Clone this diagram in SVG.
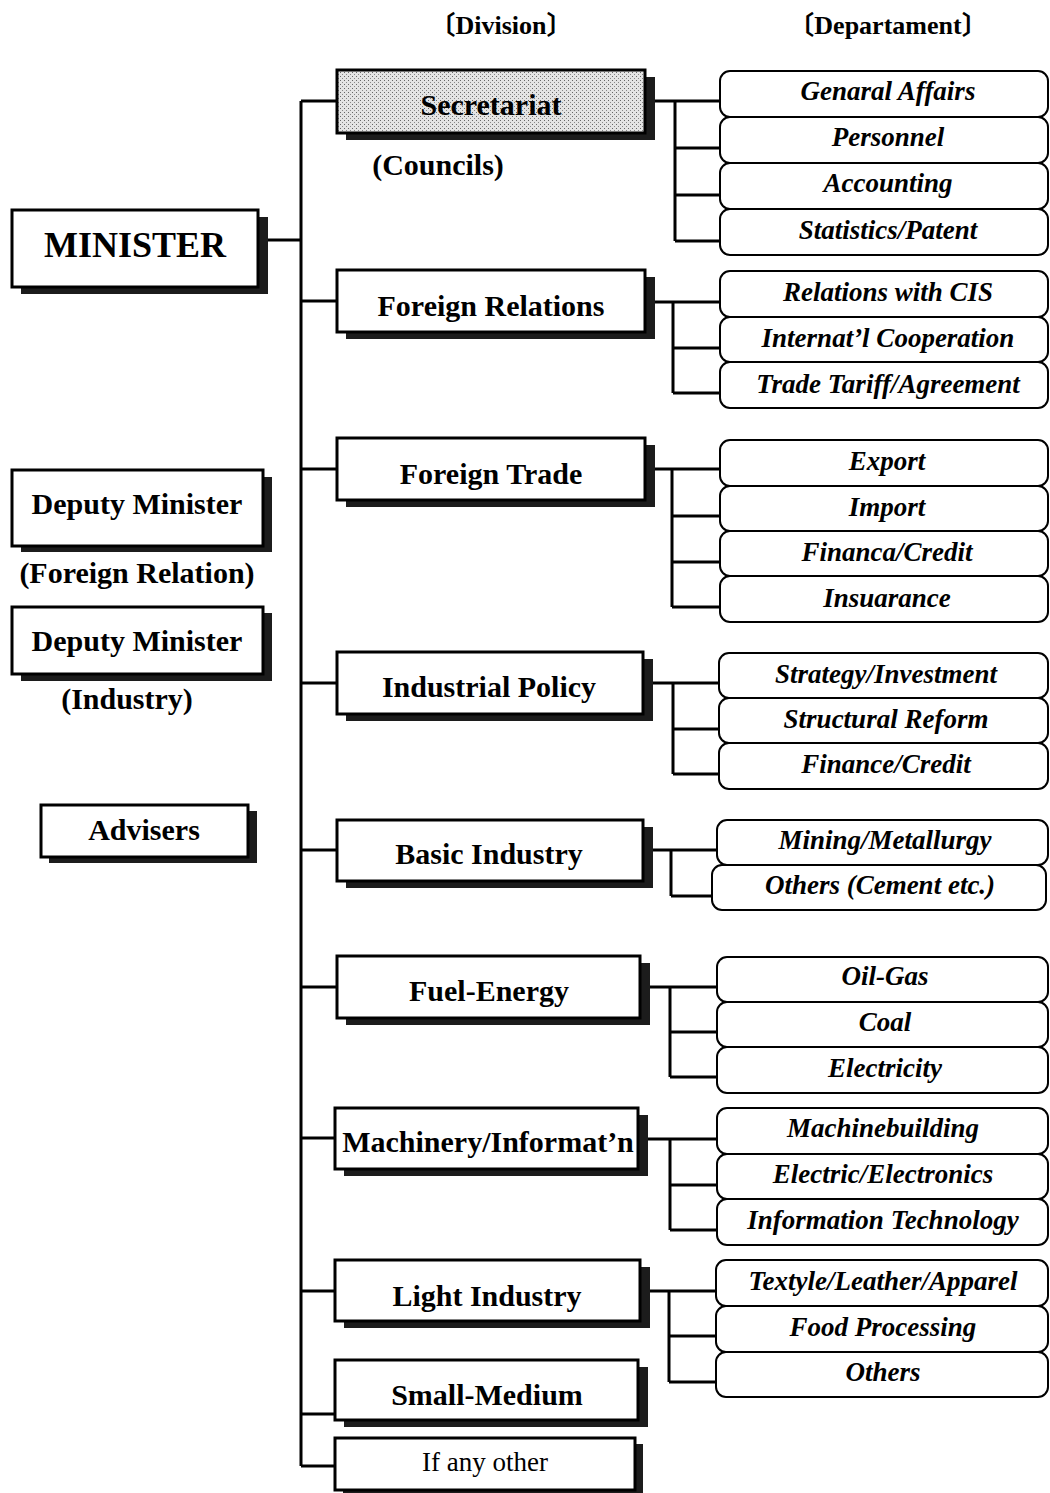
<svg xmlns="http://www.w3.org/2000/svg" width="1050" height="1493" viewBox="0 0 1050 1493">
<style>
.bg{fill:#fff}
.sh{fill:#1c1c1c}
.box{fill:#fff;stroke:#000;stroke-width:3}
.sec{fill:url(#dots);stroke:#000;stroke-width:3}
.dept{fill:#fff;stroke:#000;stroke-width:2}
.lbl{font-family:"Liberation Serif","Times New Roman",serif;font-weight:bold;font-size:30px;text-anchor:middle;fill:#000}
.big{font-size:36px}
.reg{font-weight:normal;font-size:27px}
.hdr{font-family:"Liberation Serif","Noto Sans CJK SC",serif;font-weight:bold;font-size:26px;text-anchor:middle;fill:#000}
.dl{font-family:"Liberation Serif","Times New Roman",serif;font-weight:bold;font-style:italic;font-size:27px;text-anchor:middle;fill:#000}
.c{stroke:#000;stroke-width:3;fill:none}
</style>
<defs>
<pattern id="dots" width="4" height="4" patternUnits="userSpaceOnUse">
<rect width="4" height="4" fill="#e4e4e4"/>
<rect x="0" y="0" width="1" height="1" fill="#666"/>
<rect x="2" y="2" width="1" height="1" fill="#888"/>
</pattern>
</defs>
<rect class="bg" width="1050" height="1493"/>

<text class="hdr" x="501" y="34">〔Division〕</text>
<text class="hdr" x="888" y="34">〔Departament〕</text>

<g id="connectors">
<path class="c" d="M268 240H301M301 101V1466"/>
<path class="c" d="M301 101H337M301 301H337M301 469H337M301 683H337M301 850H337M301 987H337M301 1138H335M301 1291H335M301 1414H335M301 1466H335"/>
<path class="c" d="M655 101H720M675 101V241M675 148H720M675 195H720M675 241H720"/>
<path class="c" d="M655 302H720M673 302V393M673 348H720M673 393H720"/>
<path class="c" d="M655 469H720M672 469V607M672 516H720M672 562H720M672 607H720"/>
<path class="c" d="M653 683H719M673 683V774M673 729H719M673 774H719"/>
<path class="c" d="M653 850H717M671 850V896M671 896H712"/>
<path class="c" d="M650 987H717M670 987V1077M670 1032H717M670 1077H717"/>
<path class="c" d="M648 1139H717M670 1139V1230M670 1185H717M670 1230H717"/>
<path class="c" d="M650 1291H716M669 1291V1382M669 1336H716M669 1382H716"/>
</g>

<g id="minister">
<rect class="sh" x="21" y="217" width="247" height="77"/>
<rect class="box" x="12" y="210" width="246" height="77"/>
<text class="lbl big" x="135" y="257">MINISTER</text>
</g>
<g id="deputy-foreign">
<rect class="sh" x="21" y="477" width="251" height="75"/>
<rect class="box" x="12" y="470" width="251" height="76"/>
<text class="lbl" x="137" y="514">Deputy Minister</text>
<text class="lbl" x="137" y="583">(Foreign Relation)</text>
</g>
<g id="deputy-industry">
<rect class="sh" x="21" y="613" width="251" height="68"/>
<rect class="box" x="12" y="607" width="251" height="67"/>
<text class="lbl" x="137" y="651">Deputy Minister</text>
<text class="lbl" x="127" y="709">(Industry)</text>
</g>
<g id="advisers">
<rect class="sh" x="49" y="811" width="208" height="52"/>
<rect class="box" x="41" y="805" width="207" height="52"/>
<text class="lbl" x="144" y="840">Advisers</text>
</g>

<g id="div-secretariat">
<rect class="sh" x="346" y="77" width="309" height="63"/>
<rect class="sec" x="337" y="70" width="308" height="63"/>
<text class="lbl" x="491" y="115">Secretariat</text>
<text class="lbl" x="438" y="175">(Councils)</text>
</g>
<g id="div-foreign-relations">
<rect class="sh" x="346" y="277" width="309" height="62"/>
<rect class="box" x="337" y="270" width="308" height="62"/>
<text class="lbl" x="491" y="316">Foreign Relations</text>
</g>
<g id="div-foreign-trade">
<rect class="sh" x="346" y="445" width="309" height="62"/>
<rect class="box" x="337" y="438" width="308" height="62"/>
<text class="lbl" x="491" y="484">Foreign Trade</text>
</g>
<g id="div-industrial-policy">
<rect class="sh" x="346" y="659" width="307" height="62"/>
<rect class="box" x="337" y="652" width="306" height="62"/>
<text class="lbl" x="489" y="697">Industrial Policy</text>
</g>
<g id="div-basic-industry">
<rect class="sh" x="346" y="827" width="307" height="61"/>
<rect class="box" x="337" y="820" width="306" height="61"/>
<text class="lbl" x="489" y="864">Basic Industry</text>
</g>
<g id="div-fuel-energy">
<rect class="sh" x="346" y="963" width="304" height="62"/>
<rect class="box" x="337" y="956" width="303" height="62"/>
<text class="lbl" x="489" y="1001">Fuel-Energy</text>
</g>
<g id="div-machinery">
<rect class="sh" x="344" y="1115" width="304" height="61"/>
<rect class="box" x="335" y="1108" width="303" height="61"/>
<text class="lbl" x="488" y="1152">Machinery/Informat’n</text>
</g>
<g id="div-light-industry">
<rect class="sh" x="344" y="1267" width="306" height="61"/>
<rect class="box" x="335" y="1260" width="305" height="61"/>
<text class="lbl" x="487" y="1306">Light Industry</text>
</g>
<g id="div-small-medium">
<rect class="sh" x="344" y="1367" width="304" height="60"/>
<rect class="box" x="335" y="1360" width="303" height="60"/>
<text class="lbl" x="487" y="1405">Small-Medium</text>
</g>
<g id="div-other">
<rect class="sh" x="343" y="1444" width="300" height="52"/>
<rect class="box" x="335" y="1438" width="300" height="52"/>
<text class="lbl reg" x="485" y="1471">If any other</text>
</g>

<g id="dept-secretariat">
<rect class="dept" x="720" y="71" width="328" height="46" rx="10"/>
<rect class="dept" x="720" y="117" width="328" height="46" rx="10"/>
<rect class="dept" x="720" y="163" width="328" height="46" rx="10"/>
<rect class="dept" x="720" y="209" width="328" height="46" rx="10"/>
<text class="dl" x="888" y="100">Genaral Affairs</text>
<text class="dl" x="888" y="146">Personnel</text>
<text class="dl" x="888" y="192">Accounting</text>
<text class="dl" x="888" y="239">Statistics/Patent</text>
</g>
<g id="dept-foreign-relations">
<rect class="dept" x="720" y="271" width="328" height="46" rx="10"/>
<rect class="dept" x="720" y="317" width="328" height="45" rx="10"/>
<rect class="dept" x="720" y="362" width="328" height="46" rx="10"/>
<text class="dl" x="888" y="301">Relations with CIS</text>
<text class="dl" x="888" y="347">Internat’l Cooperation</text>
<text class="dl" x="888" y="393">Trade Tariff/Agreement</text>
</g>
<g id="dept-foreign-trade">
<rect class="dept" x="720" y="440" width="328" height="46" rx="10"/>
<rect class="dept" x="720" y="486" width="328" height="45" rx="10"/>
<rect class="dept" x="720" y="531" width="328" height="45" rx="10"/>
<rect class="dept" x="720" y="576" width="328" height="46" rx="10"/>
<text class="dl" x="887" y="470">Export</text>
<text class="dl" x="887" y="516">Import</text>
<text class="dl" x="887" y="561">Financa/Credit</text>
<text class="dl" x="887" y="607">Insuarance</text>
</g>
<g id="dept-industrial-policy">
<rect class="dept" x="719" y="653" width="329" height="45" rx="10"/>
<rect class="dept" x="719" y="698" width="329" height="45" rx="10"/>
<rect class="dept" x="719" y="743" width="329" height="46" rx="10"/>
<text class="dl" x="886" y="683">Strategy/Investment</text>
<text class="dl" x="886" y="728">Structural Reform</text>
<text class="dl" x="886" y="773">Finance/Credit</text>
</g>
<g id="dept-basic-industry">
<rect class="dept" x="717" y="820" width="331" height="45" rx="10"/>
<rect class="dept" x="712" y="865" width="334" height="45" rx="10"/>
<text class="dl" x="885" y="849">Mining/Metallurgy</text>
<text class="dl" x="880" y="894">Others (Cement etc.)</text>
</g>
<g id="dept-fuel-energy">
<rect class="dept" x="717" y="957" width="331" height="45" rx="10"/>
<rect class="dept" x="717" y="1002" width="331" height="45" rx="10"/>
<rect class="dept" x="717" y="1047" width="331" height="46" rx="10"/>
<text class="dl" x="885" y="985">Oil-Gas</text>
<text class="dl" x="885" y="1031">Coal</text>
<text class="dl" x="885" y="1077">Electricity</text>
</g>
<g id="dept-machinery">
<rect class="dept" x="717" y="1108" width="331" height="46" rx="10"/>
<rect class="dept" x="717" y="1154" width="331" height="45" rx="10"/>
<rect class="dept" x="717" y="1199" width="331" height="46" rx="10"/>
<text class="dl" x="883" y="1137">Machinebuilding</text>
<text class="dl" x="883" y="1183">Electric/Electronics</text>
<text class="dl" x="883" y="1229">Information Technology</text>
</g>
<g id="dept-light-industry">
<rect class="dept" x="716" y="1260" width="332" height="46" rx="10"/>
<rect class="dept" x="716" y="1306" width="332" height="46" rx="10"/>
<rect class="dept" x="716" y="1352" width="332" height="45" rx="10"/>
<text class="dl" x="883" y="1290">Textyle/Leather/Apparel</text>
<text class="dl" x="883" y="1336">Food Processing</text>
<text class="dl" x="883" y="1381">Others</text>
</g>
</svg>
